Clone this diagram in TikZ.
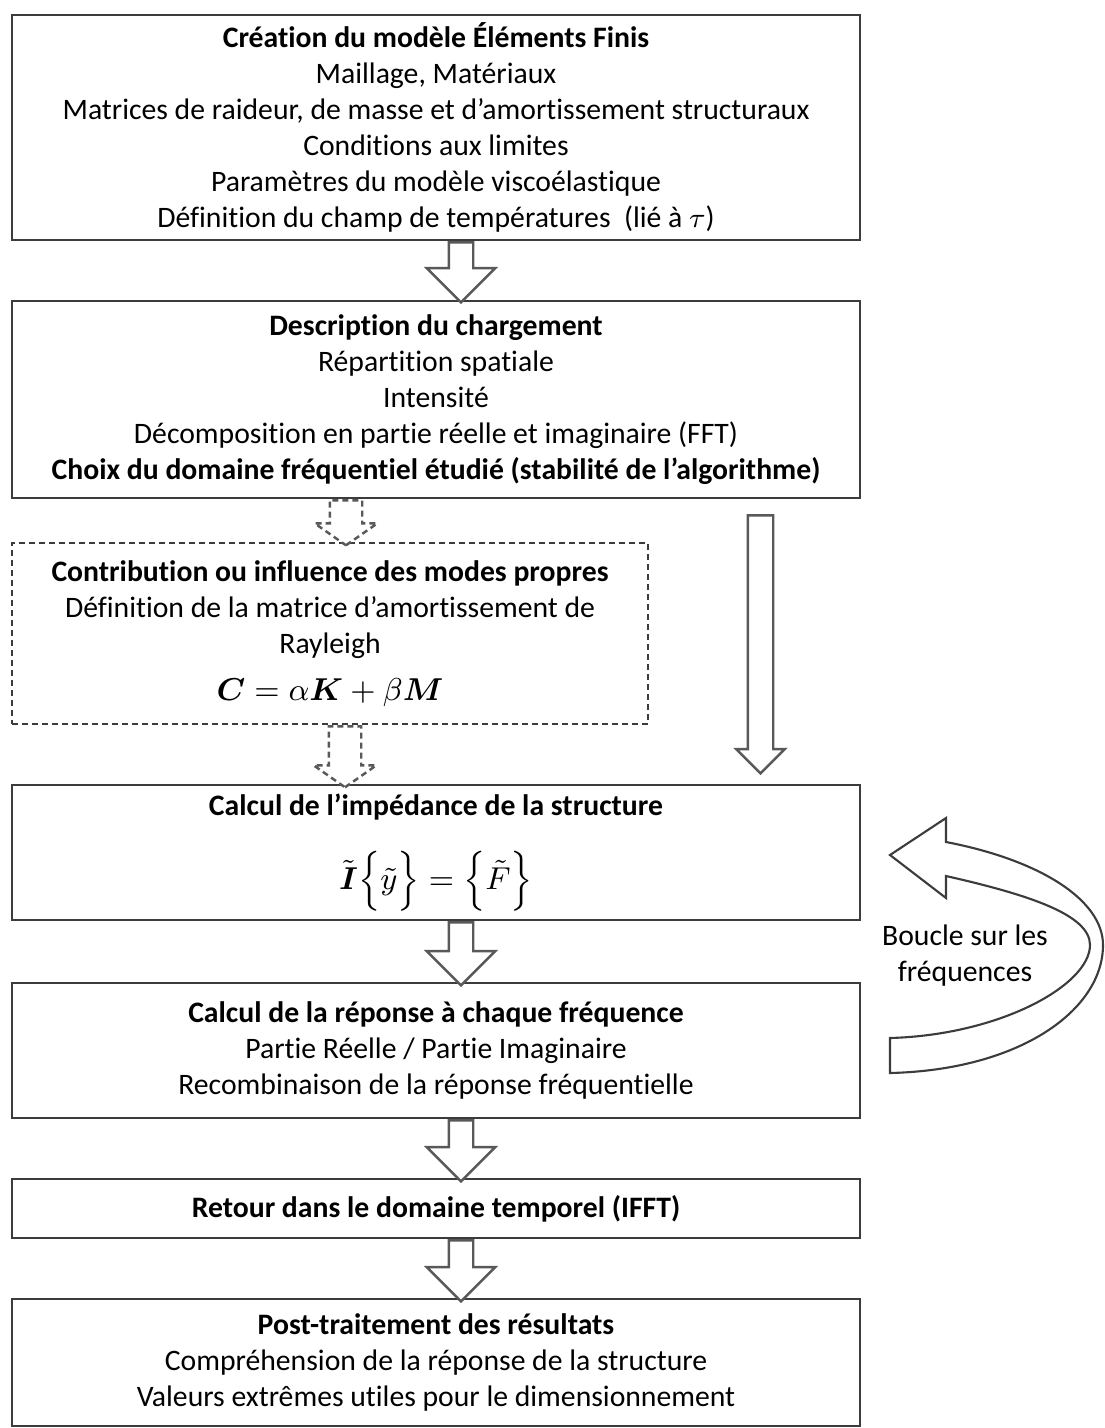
\documentclass[tikz,border=0pt]{standalone}
\usepackage{amsmath,amssymb}
\usepackage{fontspec}
\setmainfont{Carlito}[Ligatures=NoCommon]
\usetikzlibrary{shapes.arrows, positioning, calc}
\definecolor{boxgray}{HTML}{3C3C3C}
\definecolor{arrowgray}{HTML}{595959}
\tikzset{
  stepbox/.style={draw=boxgray, line width=0.6pt, minimum width=8.48cm, align=center,
                  inner sep=2pt, font=\fontsize{8.45}{10.25}\selectfont},
  modebox/.style={stepbox, dash pattern=on 0.06cm off 0.04cm, minimum width=6.36cm},
  bigarrow/.style={single arrow, draw=arrowgray, fill=white, line width=0.7pt, rotate=-90,
                   anchor=tail, inner xsep=0pt, inner ysep=0.11cm, minimum width=0pt,
                   single arrow head extend=0.22cm, minimum height=0.6cm},
  dasharrow/.style={bigarrow, dash pattern=on 0.06cm off 0.04cm, inner ysep=0.15cm,
                    single arrow head extend=0.15cm, single arrow tip angle=110},
  longarrow/.style={bigarrow, inner ysep=0.115cm, single arrow head extend=0.115cm,
                    minimum height=2.58cm},
  loopshape/.style={draw=boxgray, line width=0.6pt, fill=white},
}

\begin{document}
\begin{tikzpicture}
  \useasboundingbox (0,0) rectangle (11.05,-14.28);

  \node[stepbox, minimum height=2.25cm] (model) at (4.36,-1.275) {\textbf{Création du modèle Éléments Finis}\\
    Maillage, Matériaux\\
    Matrices de raideur, de masse et d’amortissement structuraux\\
    Conditions aux limites\\
    Paramètres du modèle viscoélastique\\
    Définition du champ de températures~ (lié à $\tau$)};
  \node[stepbox, minimum height=1.97cm] (loading) at (4.36,-3.995) {\textbf{Description du chargement}\\
    Répartition spatiale\\
    Intensité\\
    Décomposition en partie réelle et imaginaire (FFT)\\
    \textbf{Choix du domaine fréquentiel étudié (stabilité de l’algorithme)}};
  \node[modebox, minimum height=1.81cm] (modes) at (3.30,-6.335) {\textbf{Contribution ou influence des modes propres}\\
    Définition de la matrice d’amortissement de\\
    Rayleigh\\[3pt]
    {\fontsize{9.5}{11}\selectfont $\boldsymbol{C}=\alpha\boldsymbol{K}+\beta\boldsymbol{M}$}};
  \node[stepbox, minimum height=1.35cm] (impedance) at (4.36,-8.525) {\textbf{Calcul de l’impédance de la structure}\\[8pt]
    {\fontsize{9.5}{11}\selectfont $\tilde{\boldsymbol{I}}\Bigl\{\tilde{y}\Bigr\}=\Bigl\{\tilde{F}\Bigr\}$}};
  \node[stepbox, minimum height=1.35cm] (response) at (4.36,-10.505) {\textbf{Calcul de la réponse à chaque fréquence}\\
    Partie Réelle / Partie Imaginaire\\
    Recombinaison de la réponse fréquentielle};
  \node[stepbox, minimum height=0.59cm] (ifft) at (4.36,-12.085) {\textbf{Retour dans le domaine temporel (IFFT)}};
  \node[stepbox, minimum height=1.27cm] (post) at (4.36,-13.625) {\textbf{Post-traitement des résultats}\\
    Compréhension de la réponse de la structure\\
    Valeurs extrêmes utiles pour le dimensionnement};

  % block arrows between the steps
  \node[bigarrow] (a1) at ([xshift=0.25cm]model.south) {};
  \node[dasharrow, minimum height=0.45cm] (a2) at ([xshift=-0.90cm]loading.south) {};
  \node[dasharrow, minimum height=0.61cm] (a3) at ([xshift=0.15cm]modes.south) {};
  \node[longarrow] (a4) at ([xshift=3.245cm, yshift=-0.15cm]loading.south) {};
  \node[bigarrow, minimum height=0.63cm] (a5) at ([xshift=0.25cm]impedance.south) {};
  \node[bigarrow, minimum height=0.61cm] (a6) at ([xshift=0.25cm]response.south) {};
  \node[bigarrow, minimum height=0.61cm] (a7) at ([xshift=0.25cm]ifft.south) {};

  % loop over the frequencies
  \draw[loopshape] (9.46,-8.42) -- (9.46,-8.18) -- (8.90,-8.55) -- (9.46,-8.98) -- (9.46,-8.76)
    .. controls (10.30,-8.95) and (10.90,-9.15) .. (10.90,-9.45)
    .. controls (10.90,-9.85) and (10.00,-10.35) .. (8.90,-10.38) -- (8.90,-10.73)
    .. controls (10.20,-10.70) and (11.03,-10.10) .. (11.03,-9.45)
    .. controls (11.03,-9.00) and (10.40,-8.60) .. (9.46,-8.42) -- cycle;
  \node[align=center, font=\fontsize{8.45}{10.25}\selectfont] (loop) at (9.65,-9.56) {Boucle sur les\\fréquences};
\end{tikzpicture}
\end{document}
